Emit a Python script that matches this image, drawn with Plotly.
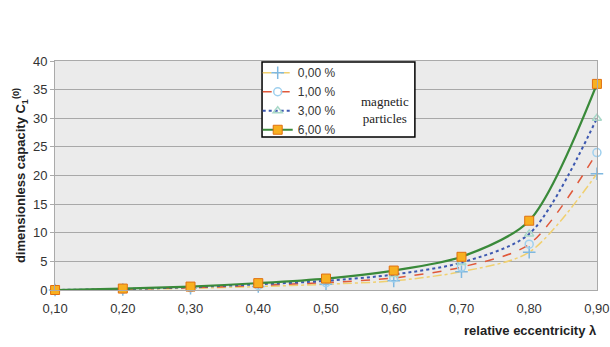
import plotly.graph_objects as go

ecc = [0.10, 0.20, 0.30, 0.40, 0.50, 0.60, 0.70, 0.80, 0.90]
c_000 = [0.0, 0.10, 0.30, 0.60, 1.0, 1.6, 3.2, 6.6, 20.3]
c_100 = [0.0, 0.15, 0.40, 0.80, 1.3, 2.1, 4.0, 8.0, 24.0]
c_300 = [0.0, 0.18, 0.50, 1.00, 1.6, 2.7, 4.8, 9.8, 30.0]
c_600 = [0.0, 0.25, 0.60, 1.20, 2.0, 3.4, 5.8, 12.1, 36.0]
names = ["0,00 %", "1,00 %", "3,00 %", "6,00 %"]
x_ticks = [0.1, 0.2, 0.3, 0.4, 0.5, 0.6, 0.7, 0.8, 0.9]
x_labels = ["0,10", "0,20", "0,30", "0,40", "0,50", "0,60", "0,70", "0,80", "0,90"]
y_ticks = [0, 5, 10, 15, 20, 25, 30, 35, 40]

fig = go.Figure()
styles = [
    (c_000, dict(color="#f0d070", width=1.5, dash="dashdot"),
     dict(symbol="cross-thin", size=9, line=dict(color="#7fb8e0", width=1.5))),
    (c_100, dict(color="#e0583a", width=1.5, dash="dash"),
     dict(symbol="circle-open", size=8, color="#9fd0ee", line=dict(width=1.5))),
    (c_300, dict(color="#3d58b0", width=2, dash="dot"),
     dict(symbol="triangle-up-open", size=8, color="#a8d8c8", line=dict(width=1.5))),
    (c_600, dict(color="#3a8a3a", width=2.2, dash="solid"),
     dict(symbol="square", size=9, color="#f8b020", line=dict(color="#e07010", width=1))),
]
for (vals, ln, mk), nm in zip(styles, names):
    fig.add_trace(go.Scatter(x=ecc, y=vals, name=nm, mode="lines+markers",
                             line=dict(shape="spline", smoothing=0.8, **ln),
                             marker=mk, cliponaxis=False))

fig.add_shape(type="rect", xref="paper", yref="paper", x0=0.382, x1=0.664,
              y0=0.668, y1=0.996, fillcolor="white",
              line=dict(color="black", width=1.5), layer="above")
fig.add_annotation(xref="paper", yref="paper", x=0.608, y=0.865,
                   text="magnetic<br>particles", showarrow=False,
                   font=dict(family="Liberation Serif", size=13, color="#222"),
                   align="center")
fig.add_annotation(xref="paper", yref="paper", x=1.003, y=-0.175,
                   xanchor="right", yanchor="middle",
                   text="<b>relative eccentricity λ</b>", showarrow=False,
                   font=dict(family="Liberation Sans", size=13, color="#222"))

fig.update_layout(
    width=610, height=347,
    margin=dict(l=55, r=13, t=61, b=57),
    paper_bgcolor="white", plot_bgcolor="#ebebeb",
    font=dict(family="Liberation Sans", size=13, color="#333"),
    legend=dict(x=0.374, y=1.012, xanchor="left", yanchor="top",
                bgcolor="rgba(0,0,0,0)", borderwidth=0,
                font=dict(size=12, color="#333"), itemwidth=30,
                tracegroupgap=0),
    xaxis=dict(range=[0.0999, 0.9001], tickvals=x_ticks, ticktext=x_labels,
               showgrid=False, zeroline=False, showline=True,
               linecolor="#aaa", mirror=True, ticks="",
               ticklabelstandoff=6, ticklabeloverflow="allow",
               automargin=False),
    yaxis=dict(range=[0, 40], tickvals=y_ticks, showgrid=True,
               gridcolor="#a8a8a8", gridwidth=1.3, zeroline=False,
               showline=True, linecolor="#aaa", mirror=True,
               ticks="outside", ticklen=4, tickcolor="#aaa",
               title=dict(text="<b>dimensionless capacity C<sub>1</sub><sup>(0)</sup></b>",
                          font=dict(size=13, color="#222"), standoff=4)),
)
fig.write_html("out.html", config={"displayModeBar": False},
               post_script="document.body.style.margin='0px';")
